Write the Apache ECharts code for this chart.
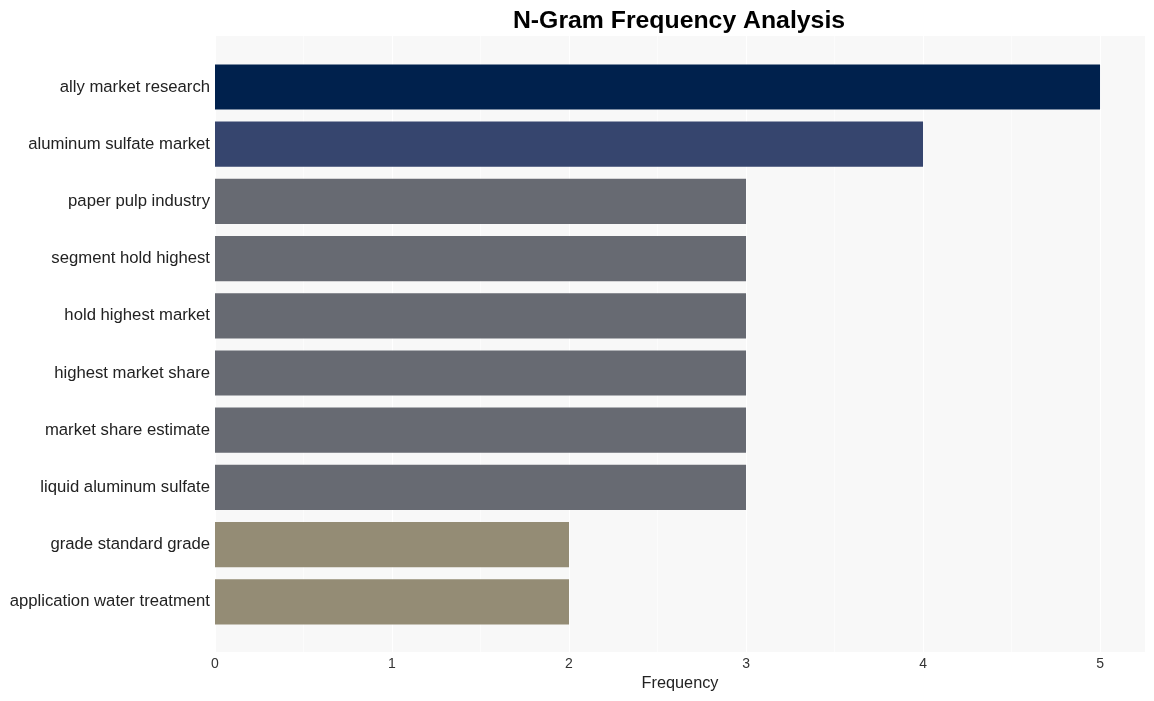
<!DOCTYPE html>
<html><head><meta charset="utf-8">
<script src="https://cdn.jsdelivr.net/npm/echarts@6/dist/echarts.min.js"></script>
<style>html,body{margin:0;padding:0;background:#fff}#c{width:1154px;height:701px}</style>
</head><body><div id="c"></div>
<script>
const categories = ["ally market research","aluminum sulfate market","paper pulp industry","segment hold highest","hold highest market","highest market share","market share estimate","liquid aluminum sulfate","grade standard grade","application water treatment"];
const values = [5,4,3,3,3,3,3,3,2,2];
const barColors = ["#00214d","#36456e","#676a72","#676a72","#676a72","#676a72","#676a72","#676a72","#948c75","#948c75"];
const xTicks = [0,1,2,3,4,5];
const xMax = 5.254;

const chart = echarts.init(document.getElementById('c'), null, {renderer:'canvas'});
chart.setOption({
  animation:false,
  title:{text:"N-Gram Frequency Analysis", left:674, top:4, textAlign:'center',
    textStyle:{fontFamily:'Liberation Sans, Arial, sans-serif', fontSize:24.8, fontWeight:'bold', color:'#000'}},
  grid:[
    {left:215, right:9, top:36, height:616, show:true, backgroundColor:'#f8f8f8', borderWidth:0},
    {left:215, right:9, top:58.4, height:572, show:false}
  ],
  xAxis:[
    {gridIndex:0, type:'value', min:0, max:xMax, interval:1,
     name:'Frequency', nameLocation:'middle', nameGap:24,
     nameTextStyle:{fontFamily:'Liberation Sans, Arial, sans-serif', fontSize:16.3, color:'#222'},
     axisLine:{show:false}, axisTick:{show:false},
     axisLabel:{fontFamily:'Liberation Sans, Arial, sans-serif', fontSize:14, color:'#333', margin:5,
       formatter:v=> xTicks.includes(v)? String(v) : ''},
     splitLine:{show:true, lineStyle:{color:'#ffffff', width:1.2}},
     minorTick:{show:false, splitNumber:2},
     minorSplitLine:{show:true, lineStyle:{color:'#ffffff', width:0.6}}},
    {gridIndex:1, type:'value', min:0, max:xMax, show:false}
  ],
  yAxis:[
    {gridIndex:0, type:'value', show:false, min:0, max:1, splitLine:{show:false}},
    {gridIndex:1, type:'category', inverse:true, data:categories,
     axisLine:{show:false}, axisTick:{show:false}, splitLine:{show:false},
     axisLabel:{fontFamily:'Liberation Sans, Arial, sans-serif', fontSize:16.7, color:'#222', margin:5,
       padding:[2,0,0,0]}}
  ],
  series:[{
    type:'bar', xAxisIndex:1, yAxisIndex:1, barCategoryGap:'21%',
    data: values.map((v,i)=>({value:v, itemStyle:{color:barColors[i]}}))
  }]
});
</script></body></html>
